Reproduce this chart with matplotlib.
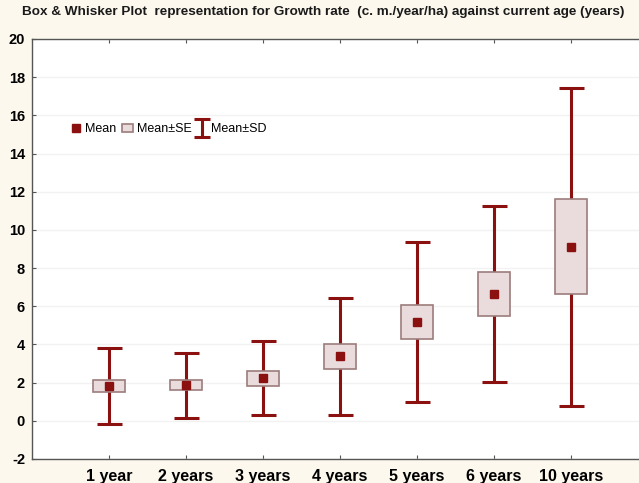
import numpy as np
import matplotlib.pyplot as plt
from matplotlib.patches import Rectangle, Patch
from matplotlib.lines import Line2D
from matplotlib.path import Path

# Data
ages = ["1 year", "2 years", "3 years", "4 years", "5 years", "6 years", "10 years"]
mean = [1.83, 1.87, 2.22, 3.37, 5.19, 6.65, 9.12]
se = [0.30, 0.28, 0.40, 0.67, 0.90, 1.16, 2.50]
sd = [1.99, 1.70, 1.94, 3.07, 4.19, 4.62, 8.32]

dark_red = "#8b1010"
box_fill = "#eadcdc"
box_edge = "#9c7c7c"
bg = "#fcf8ee"

plt.rcParams['font.family'] = ['Liberation Sans', 'DejaVu Sans']
plt.rcParams['axes.unicode_minus'] = False

fig = plt.figure(figsize=(6.39, 4.83), dpi=100, facecolor=bg)
ax = fig.add_axes([32 / 639, 1 - 459 / 483, 616 / 639, 420 / 483])
ax.set_facecolor("white")

x = np.arange(1, len(ages) + 1)

# whiskers (mean +/- SD)
ax.errorbar(x, mean, yerr=sd, fmt="none", ecolor=dark_red, elinewidth=2.2,
            capsize=9, capthick=2.2, zorder=2)

# boxes (mean +/- SE)
box_w = 0.41
for xi, m, s in zip(x, mean, se):
    ax.add_patch(Rectangle((xi - box_w / 2, m - s), box_w, 2 * s, facecolor=box_fill,
                           edgecolor=box_edge, linewidth=1.2, zorder=3))

# mean markers
ax.plot(x, mean, linestyle="none", marker="s", markersize=5.5, color=dark_red, zorder=4)

ax.set_xlim(0, 8)
ax.set_ylim(-2, 20)
ax.set_yticks(np.arange(-2, 21, 2))
ax.set_xticks(x)
ax.set_xticklabels(ages)
for lab in ax.get_xticklabels():
    lab.set_fontweight("bold")
    lab.set_fontsize(11.5)
for lab in ax.get_yticklabels():
    lab.set_fontweight("bold")
    lab.set_fontsize(10.5)
ax.tick_params(axis="both", direction="in", length=3, color="#555555", top=True)
ax.tick_params(axis="x", pad=7)
ax.tick_params(axis="y", pad=5)
ax.yaxis.grid(True, color="#f2f2f2", linewidth=1)
ax.set_axisbelow(True)
for sp in ax.spines.values():
    sp.set_color("#555555")
    sp.set_linewidth(1)

# "I" shaped legend symbol for the whiskers
i_shape = Path([(-0.5, 0.55), (0.5, 0.55), (0, 0.55), (0, -0.55), (-0.5, -0.55), (0.5, -0.55)],
               [Path.MOVETO, Path.LINETO, Path.MOVETO, Path.LINETO, Path.MOVETO, Path.LINETO])
handles = [
    Line2D([], [], linestyle="none", marker="s", markersize=5.5, color=dark_red),
    Patch(facecolor=box_fill, edgecolor=box_edge, linewidth=1.2),
    Line2D([], [], linestyle="none", marker=i_shape, markersize=13, markeredgewidth=2.2,
           color=dark_red, markerfacecolor="none"),
]
ax.legend(handles, ["Mean", "Mean\u00b1SE", "Mean\u00b1SD"], ncol=3, frameon=False,
          loc="center left", bbox_to_anchor=(0.044, 0.785), fontsize=9,
          handlelength=0.9, handletextpad=0.3, columnspacing=0.4)

fig.text(22 / 639, 1 - 12 / 483, "Box & Whisker Plot  representation for Growth rate  "
         "(c. m./year/ha) against current age (years)", fontsize=9.7, fontweight="bold",
         ha="left", va="center", color="#1a1a1a")

fig.savefig("out.png", dpi=100, facecolor=bg)
